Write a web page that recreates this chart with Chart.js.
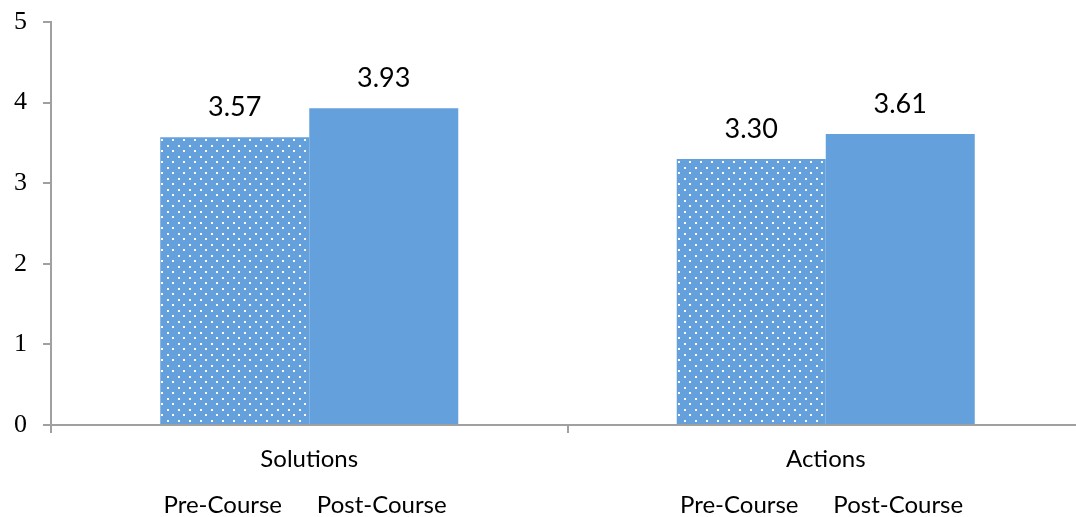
<!DOCTYPE html>
<html lang="en">
<head>
  <meta charset="UTF-8">
  <title>Pre-Course vs Post-Course</title>
  <script src="https://cdn.jsdelivr.net/npm/chart.js"></script>
  <style>
    html, body {
      margin: 0;
      padding: 0;
      background: #ffffff;
      overflow: hidden;
    }
    #wrap {
      width: 1084px;
      height: 517px;
    }
  </style>
</head>
<body>

<div id="wrap">
  <canvas id="courseChart" width="1084" height="517"></canvas>
</div>

<script>
  const categories = ['Solutions', 'Actions'];
  const seriesNames = ['Pre-Course', 'Post-Course'];
  const preCourse = [3.57, 3.30];
  const postCourse = [3.93, 3.61];
  const yTicks = [0, 1, 2, 3, 4, 5];

  const blue = '#64a0dc';
  const axisGray = '#a0a0a0';
  const sansFont = "Lato, 'Open Sans', sans-serif";

  // dotted fill for the pre-course bars
  function dotPattern() {
    const tile = document.createElement('canvas');
    tile.width = 11;
    tile.height = 11;
    const t = tile.getContext('2d');
    t.fillStyle = blue;
    t.fillRect(0, 0, 11, 11);
    t.fillStyle = '#ffffff';
    t.fillRect(2, 2, 2, 2);
    t.fillRect(7, 7, 2, 2);
    return t.createPattern(tile, 'repeat');
  }

  // value above each bar + series name under each bar
  const nameShift = [-12, -2];
  const barText = {
    id: 'barText',
    afterDatasetsDraw(chart) {
      const ctx = chart.ctx;
      ctx.save();
      ctx.fillStyle = '#000000';
      ctx.textAlign = 'center';
      ctx.textBaseline = 'middle';
      chart.data.datasets.forEach((ds, di) => {
        const meta = chart.getDatasetMeta(di);
        meta.data.forEach((bar, i) => {
          ctx.font = '27px ' + sansFont;
          ctx.fillText(ds.data[i].toFixed(2), bar.x, bar.y - 30);
          ctx.font = '24px ' + sansFont;
          ctx.fillText(seriesNames[di], bar.x + nameShift[di], 505);
        });
      });
      ctx.restore();
    }
  };

  const ctx = document.getElementById('courseChart').getContext('2d');
  new Chart(ctx, {
    type: 'bar',
    data: {
      labels: categories,
      datasets: [
        {
          label: seriesNames[0],
          data: preCourse,
          backgroundColor: dotPattern(),
          borderWidth: 0
        },
        {
          label: seriesNames[1],
          data: postCourse,
          backgroundColor: blue,
          borderWidth: 0
        }
      ]
    },
    options: {
      responsive: false,
      animation: false,
      layout: { padding: { top: 22, right: 0, left: 0, bottom: 0 } },
      categoryPercentage: 0.577,
      barPercentage: 1.0,
      plugins: {
        legend: { display: false },
        tooltip: { enabled: false }
      },
      scales: {
        x: {
          grid: {
            drawOnChartArea: false,
            drawTicks: true,
            tickLength: 8,
            color: axisGray,
            lineWidth: 2
          },
          border: { color: axisGray, width: 2 },
          ticks: {
            color: '#000000',
            font: { family: sansFont, size: 24 },
            padding: 12
          },
          afterFit(scale) {
            scale.height = 92;
            scale.paddingLeft = 0;
            scale.paddingRight = 0;
          }
        },
        y: {
          min: 0,
          max: 5,
          afterBuildTicks(scale) {
            scale.ticks = yTicks.map(v => ({ value: v }));
          },
          grid: {
            drawOnChartArea: false,
            drawTicks: true,
            tickLength: 8,
            color: axisGray,
            lineWidth: 2
          },
          border: { color: axisGray, width: 2 },
          ticks: {
            color: '#000000',
            font: { family: "'Liberation Serif', 'DejaVu Serif', serif", size: 26 },
            padding: 16
          },
          afterFit(scale) {
            scale.width = 51;
            scale.paddingTop = 0;
            scale.paddingBottom = 0;
          }
        }
      }
    },
    plugins: [barText]
  });
</script>

</body>
</html>
